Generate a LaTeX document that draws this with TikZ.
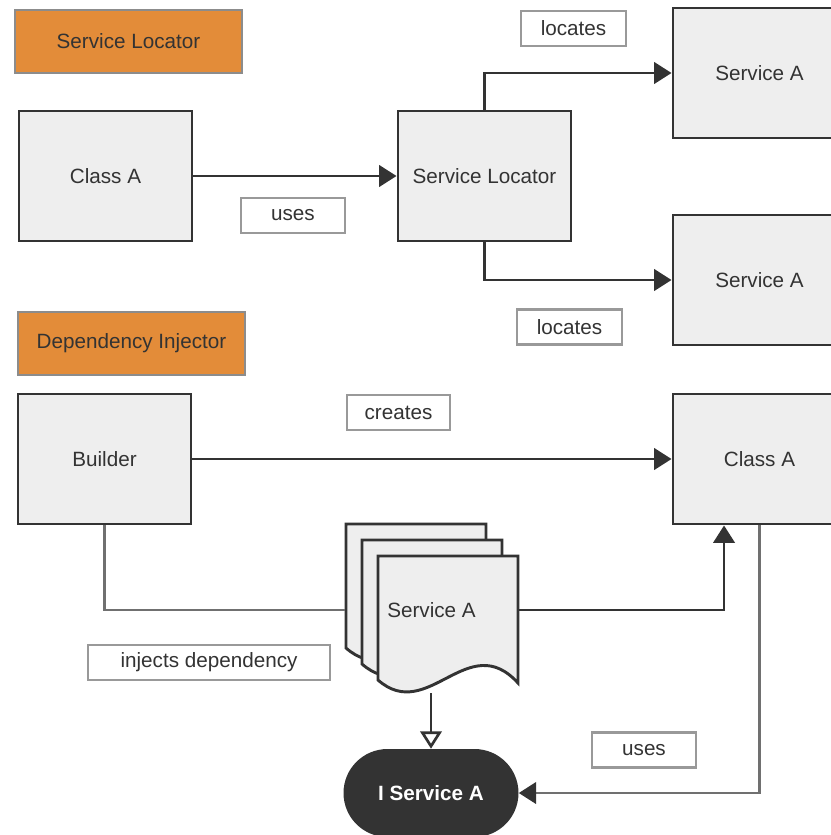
\documentclass[tikz,border=0pt]{standalone}
\usepackage{fontspec}
\setmainfont{Liberation Sans}
\usepackage{tikz}
\usetikzlibrary{arrows.meta}
\usepackage{xcolor}
\definecolor{ink}{HTML}{333333}
\definecolor{boxfill}{HTML}{EEEEEE}
\definecolor{tagline}{HTML}{999999}
\definecolor{paleline}{HTML}{707070}
\definecolor{titlefill}{HTML}{E38C39}
\definecolor{titleline}{HTML}{8C8C8C}

\begin{document}
\begin{tikzpicture}[x=0.75pt,y=-0.75pt,>={Triangle[length=13pt,width=16pt]},
  font=\fontsize{15.5}{18}\selectfont,text=ink,
  block/.style={draw=ink,fill=boxfill,line width=2.2pt,minimum width=129.75pt,minimum height=97.5pt,inner sep=0pt},
  tag/.style={draw=tagline,fill=white,line width=2pt,minimum height=26.25pt,inner sep=0pt},
  title/.style={draw=titleline,fill=titlefill,line width=2pt,minimum width=170.25pt,minimum height=47.25pt,inner sep=0pt},
  page/.style={draw=ink,fill=boxfill,line width=2.2pt},
  conn/.style={draw=ink,line width=2pt},
  pale/.style={draw=paleline,line width=2.2pt}]
\useasboundingbox (0,0) rectangle (831,835);
\clip (0,0) rectangle (831,835);

% service locator
\node[title] (titleloc) at (128.5,41.5) {Service Locator};
\node[block] (clsA) at (105.5,176) {Class A};
\node[block] (loc) at (484.5,176) {Service Locator};
\node[block] (svcA) at (759.5,73) {Service A};
\node[block] (svcB) at (759.5,280) {Service A};
\node[tag,minimum width=78pt] (uses) at (293,215.5) {uses};
\node[tag,minimum width=78.75pt] (locA) at (573.5,28.5) {locates};
\node[tag,minimum width=78.75pt] (locB) at (569.5,327) {locates};
\draw[conn,->] (clsA) -- (loc);
\draw[conn,->] (loc.north) |- (svcA.west);
\draw[conn,->] (loc.south) |- (svcB.west);

% dependency injector
\node[title] (titleinj) at (131.5,343.5) {Dependency Injector};
\node[block] (builder) at (104.5,459) {Builder};
\node[block] (clsB) at (759.5,459) {Class A};
\node[tag,minimum width=77.25pt] (creates) at (398.5,412.5) {creates};
\node[tag,minimum width=181.5pt] (injects) at (209,662.5) {injects dependency};
\node[tag,minimum width=78pt] (usesB) at (644,750) {uses};
\foreach \d in {0,16,32}
  \filldraw[page,shift={(346+\d,524+\d)}] (0,0) -- (140,0) -- (140,127)
    .. controls (90,72) and (50,168) .. (0,124) -- cycle;
\node[minimum width=129.75pt,inner sep=0pt] (stack) at (431.5,610) {Service A};
\node[fill=ink,text=white,font=\fontsize{15.5}{18}\selectfont\bfseries,rounded corners=33pt,
  minimum width=131.25pt,minimum height=66pt,inner sep=0pt] (isvc) at (431,793) {I Service A};
\coordinate (stkbot) at (431,693);
\draw[conn,->] (builder) -- (clsB);
\draw[pale] (builder.south) |- (stack.west);
\draw[conn,->] (stack.east) -| ([xshift=-26.6pt]clsB.south);
\draw[pale,-{Triangle[length=13pt,width=16pt,color=ink]}] (clsB.south) |- (isvc.east);
\draw[conn,-{Triangle[open,length=13pt,width=16pt]}] (stkbot) -- (isvc.north);
\end{tikzpicture}
\end{document}
